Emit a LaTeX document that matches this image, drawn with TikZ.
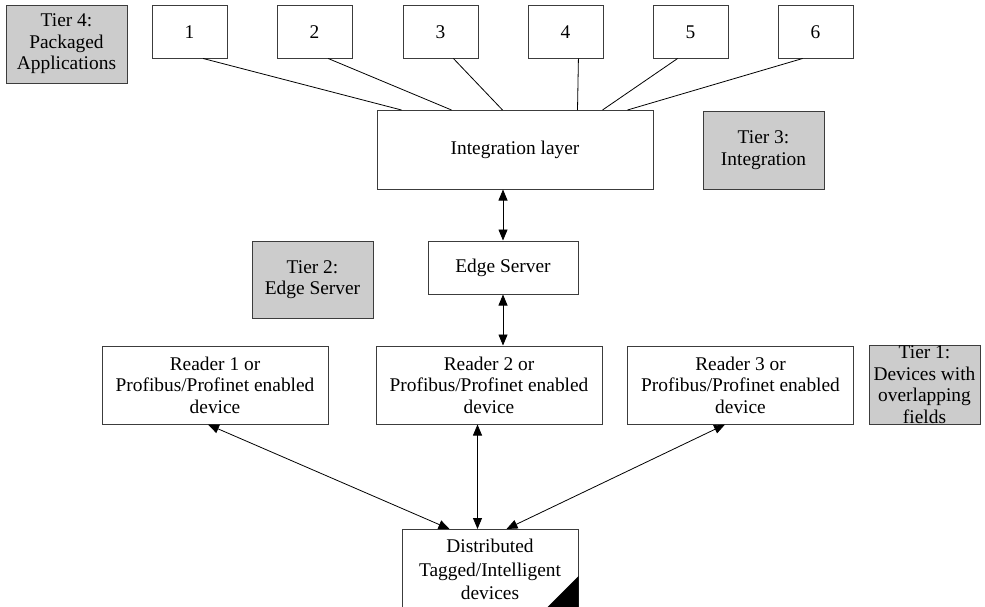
\documentclass[tikz,border=0pt]{standalone}
\usepackage{fontspec}
\setmainfont{Liberation Serif}
\usetikzlibrary{arrows.meta,calc}
\definecolor{tiergray}{RGB}{204,204,204}
\definecolor{edgegray}{RGB}{60,60,60}
\begin{document}
\begin{tikzpicture}[x=1pt,y=-1pt,
  every node/.style={font=\fontsize{19.4}{21.5}\selectfont, align=center, inner sep=0pt},
  box/.style={draw=edgegray, line width=1pt, fill=white, minimum width=#1},
  tier/.style={draw=edgegray, line width=1pt, fill=tiergray, minimum width=#1},
  link/.style={line width=0.8pt},
  both/.style={line width=0.8pt, {Triangle[length=11pt,width=9pt]}-{Triangle[length=11pt,width=9pt]}}]
\useasboundingbox (0,0) rectangle (985,606);
\clip (0,0) rectangle (985,606);

% Tier labels
\node[tier=121, minimum height=78] (t4) at (66.5,44) {Tier 4:\\Packaged\\Applications};
\node[tier=121, minimum height=78] (t3) at (763.5,150) {Tier 3:\\Integration};
\node[tier=121, minimum height=77] (t2) at (312.5,279.5) {Tier 2:\\Edge Server};
\node[tier=111, minimum height=79] (t1) at (924.5,384.5) {Tier 1:\\Devices with\\overlapping\\fields};

% Packaged applications
\foreach \i/\x in {1/189.5,2/314.5,3/440.5,4/565.5,5/690.5,6/815.5}
  \node[box=75, minimum height=52.5] (b\i) at (\x,31.75) {\i};

% Integration and edge tiers
\node[box=276, minimum height=78.5] (integ) at (515,149.75) {Integration layer};
\node[box=150, minimum height=53] (edge) at (503,267.5) {Edge Server};

% Readers
\node[box=226, minimum height=78] (r1) at (215,385) {Reader 1 or\\Profibus/Profinet enabled\\device};
\node[box=226, minimum height=78] (r2) at (489,385) {Reader 2 or\\Profibus/Profinet enabled\\device};
\node[box=226, minimum height=78] (r3) at (740.5,385) {Reader 3 or\\Profibus/Profinet enabled\\device};

% Tagged devices
\node[box=176, minimum height=80, anchor=north,
      font=\fontsize{19.4}{23.5}\selectfont] (dist) at (490,529)
  {Distributed\\Tagged/Intelligent\\devices};
\fill[black] (dist.south east) -- ++(0,-34) -- ++(-34,34) -- cycle;

% Connection points on the device box
\coordinate (dl) at ($(dist.north west)+(48,0)$);
\coordinate (dm) at ($(dist.north west)+(76,0)$);
\coordinate (dr) at ($(dist.north west)+(105,0)$);

% Applications to integration layer
\draw[link] ($(b1.south west)!0.68!(b1.south east)$) -- ($(integ.north west)+(25,0)$);
\draw[link] ($(b2.south west)!0.68!(b2.south east)$) -- ($(integ.north west)+(75,0)$);
\draw[link] ($(b3.south west)!0.67!(b3.south east)$) -- ($(integ.north west)+(126,0)$);
\draw[link] ($(b4.south west)!0.67!(b4.south east)$) -- ($(integ.north west)+(201,0)$);
\draw[link] ($(b5.south west)!0.33!(b5.south east)$) -- ($(integ.north west)+(226,0)$);
\draw[link] ($(b6.south west)!0.33!(b6.south east)$) -- ($(integ.north west)+(251,0)$);

% Tier links
\draw[both] (edge.north |- integ.south) -- (edge.north);
\draw[both] (edge.south) -- (edge.south |- r2.north);
\draw[both] ($(r1.south)+(-7,0)$) -- (dl);
\draw[both] (dm |- r2.south) -- (dm);
\draw[both] ($(r3.south)+(-15.5,0)$) -- (dr);
\end{tikzpicture}
\end{document}
